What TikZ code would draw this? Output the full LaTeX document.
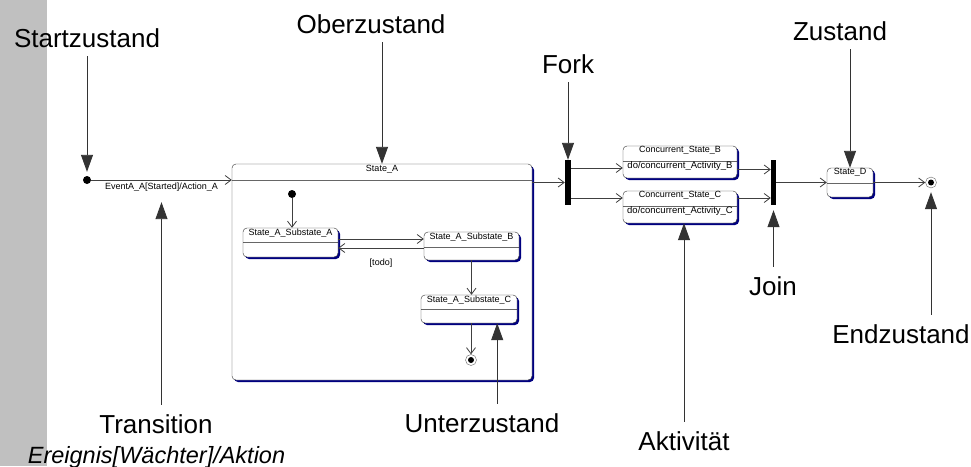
\documentclass[tikz,border=0pt]{standalone}
\usepackage{fontspec}
\setmainfont{Liberation Sans}
\usepackage{tikz}
\usetikzlibrary{
  arrows.meta,
  calc,
  positioning,
  shadows}

\definecolor{schatten}{RGB}{0,0,128}
\definecolor{grauband}{RGB}{192,192,192}
\newcommand{\gross}{\fontsize{26}{30}\selectfont}
\newcommand{\klein}{\fontsize{9}{11}\selectfont}

\tikzset{
  zustand/.style={draw=black!80, fill=white, rounded corners=4pt, inner sep=0pt,
    drop shadow={shadow xshift=2pt, shadow yshift=-2pt, fill=schatten, opacity=1}},
  trenn/.style={path picture={\draw[black!60] ([yshift=-#1]path picture bounding box.north west)
    -- ([yshift=-#1]path picture bounding box.north east);}},
  titel/.style={anchor=north, inner sep=0.5pt, font=\klein},
  rumpf/.style={titel, yshift=-15pt, font=\fontsize{9.5}{11}\selectfont},
  balken/.style={fill=black, minimum width=6pt, minimum height=45pt, inner sep=0pt},
  startpunkt/.style={circle, fill=black, minimum size=8pt, inner sep=0pt},
  endpunkt/.style={circle, draw=black!60, fill=white, minimum size=11pt, inner sep=0pt,
    path picture={\fill[black] (path picture bounding box.center) circle (3pt);}},
  trans/.style={draw=black!75, line width=0.8pt, -{Straight Barb[length=6pt,width=9pt]}},
  hinweis/.style={draw=black!80, line width=0.9pt, shorten <=6pt, -{Triangle[length=17pt,width=12pt]}},
  notiz/.style={font=\gross, anchor=base, inner sep=3pt}
}

\begin{document}
\begin{tikzpicture}[x=1pt,y=-1pt]
        \useasboundingbox (0,0) rectangle (971,466);
        \fill[white] (0,0) rectangle (971,466);
        \fill[grauband] (0,0) rectangle (47,466);

        % Zustaende
        \node[zustand, trenn=16pt, minimum width=300pt, minimum height=216pt,
            label={[titel, inner sep=1pt]north:State\_A}] (sA) at (382,272) {};
        \node[zustand, trenn=14pt, minimum width=95pt, minimum height=29pt,
            label={[titel]north:State\_A\_Substate\_A}] (sAa) at (290.5,242.5) {};
        \node[zustand, trenn=15pt, minimum width=95pt, minimum height=28pt,
            label={[titel]north:State\_A\_Substate\_B}] (sAb) at (471.5,246) {};
        \node[zustand, trenn=14pt, minimum width=96pt, minimum height=28pt,
            label={[titel]north:State\_A\_Substate\_C}] (sAc) at (469,309) {};
        \node[zustand, trenn=15pt, minimum width=114pt, minimum height=32pt,
            label={[titel]north:Concurrent\_State\_B},
            label={[rumpf]north:do/concurrent\_Activity\_B}] (cB) at (680,162) {};
        \node[zustand, trenn=15pt, minimum width=114pt, minimum height=32pt,
            label={[titel]north:Concurrent\_State\_C},
            label={[rumpf]north:do/concurrent\_Activity\_C}] (cC) at (680,207) {};
        \node[zustand, trenn=15pt, minimum width=46pt, minimum height=29pt,
            label={[titel]north:State\_D}] (sD) at (850,182.5) {};

        % Pseudozustaende
        \node[startpunkt] (start) at (87,180) {};
        \node[startpunkt] (init) at (292,194) {};
        \node[endpunkt] (fin) at (471,360) {};
        \node[endpunkt] (ende) at (931,182.5) {};
        \node[balken] (fork) at (568,182.5) {};
        \node[balken, minimum width=5pt] (join) at (773.5,182.5) {};

        % Transitionen
        \draw[trans] (start) -- (start -| sA.west)
            node[midway, below, font=\klein, inner sep=3pt] (ev) {EventA\_A[Started]/Action\_A};
        \draw[trans] (fork.west -| sA.east) -- (fork.west);
        \draw[trans] ([yshift=14.5pt]fork.east) -- ([yshift=-6pt]cB.west);
        \draw[trans] ([yshift=-15.5pt]fork.east) -- ([yshift=9pt]cC.west);
        \draw[trans] ([yshift=-7.5pt]cB.east) -- ([yshift=13pt]join.west);
        \draw[trans] ([yshift=9pt]cC.east) -- ([yshift=-15.5pt]join.west);
        \draw[trans] (join.east) -- (sD.west);
        \draw[trans] (sD.east) -- (ende.west);
        \draw[trans] (init) -- (init |- sAa.north);
        \draw[trans] ([yshift=3.5pt]sAa.east) -- ([yshift=7pt]sAb.west);
        \draw[trans] ([yshift=-2pt]sAb.west) -- ([yshift=-5.5pt]sAa.east)
            node[midway, below=7pt, font=\klein] (todo) {[todo]};
        \draw[trans] (sAb.south) -- (sAb.south |- sAc.north);
        \draw[trans] (fin |- sAc.south) -- (fin);

        % Beschriftungen
        \node[notiz] (lStart) at (87,47) {Startzustand};
        \node[notiz] (lOber) at (371,33) {Oberzustand};
        \node[notiz] (lFork) at (568,73) {Fork};
        \node[notiz] (lZust) at (840,40) {Zustand};
        \node[notiz] (lJoin) at (773,295) {Join};
        \node[notiz] (lEnd) at (901,343) {Endzustand};
        \node[notiz] (lAkt) at (684,450) {Aktivität};
        \node[notiz] (lUnter) at (482,432) {Unterzustand};
        \node[notiz] (lTrans) at (156,433) {Transition};
        \node[notiz, font=\fontsize{23.5}{28}\selectfont\itshape] (lEreig) at (156.5,463) {Ereignis[Wächter]/Aktion};
        \coordinate (uz) at ([xshift=-20pt]sAc.south east);

        \draw[hinweis, shorten >=4pt] (lStart.south) -- (start.north);
        \draw[hinweis] (lOber.south -| sA.north) -- (sA.north);
        \draw[hinweis] (lFork.south) -- (fork.north);
        \draw[hinweis] (lZust.south -| sD.north) -- (sD.north);
        \draw[hinweis, shorten >=5pt] (lJoin.north -| join.south) -- (join.south);
        \draw[hinweis, shorten >=4pt] (lEnd.north -| ende.south) -- (ende.south);
        \draw[hinweis] (lAkt.north) -- (lAkt.north |- cC.south);
        \draw[hinweis] (lUnter.north -| uz) -- (uz);
        \draw[hinweis, shorten >=7pt] (lTrans.north -| ev.south) -- (ev.south);
    \end{tikzpicture}
\end{document}
